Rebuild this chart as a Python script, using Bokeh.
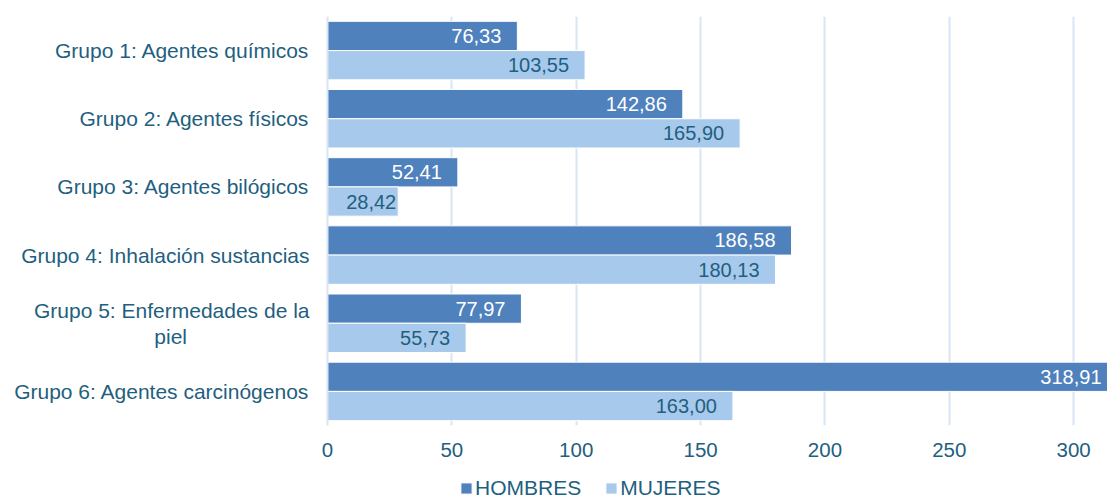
from bokeh.plotting import figure
from bokeh.layouts import column
from bokeh.models import (ColumnDataSource, FactorRange, Range1d, FixedTicker,
                          Legend, LegendItem, CustomJSTickFormatter)
from bokeh.transform import dodge
from bokeh.embed import file_html
from bokeh.resources import INLINE
from bokeh.core.properties import value

# ---------------- data ----------------
NB = "\u00a0"
categories = [
    "Grupo 1: Agentes químicos",
    "Grupo 2: Agentes físicos",
    "Grupo 3: Agentes bilógicos",
    "Grupo 4: Inhalación sustancias",
    "Grupo 5: Enfermedades de la\npiel" + NB * 21,
    "Grupo 6: Agentes carcinógenos",
]
hombres = [76.33, 142.86, 52.41, 186.58, 77.97, 318.91]
mujeres = [103.55, 165.90, 28.42, 180.13, 55.73, 163.00]
series_names = ["HOMBRES", "MUJERES"]
x_ticks = [0, 50, 100, 150, 200, 250, 300]

# ---------------- style ----------------
DARK = "#4F81BD"
LIGHT = "#A7C9EC"
TEXT = "#1F5F7F"
GRID = "#D9E5F3"
FONT = "Liberation Sans"
FS_CAT = "21px"
FS_VAL = "20px"
FS_TICK = "20.5px"

W = 1107
H_MAIN, H_LEG = 476, 24
LEFT, TOP = 327, 16
FRAME_W = W - LEFT
FRAME_H = 409
BOTTOM = H_MAIN - TOP - FRAME_H
X_END = 313.6
PPU = FRAME_W / X_END

BAR_H = 0.429
OFF = BAR_H / 2


def fmt(v):
    return f"{v:.2f}".replace(".", ",")


def label_cols(vals):
    xs, offs, txt = [], [], []
    for v in vals:
        s = fmt(v)
        vis = min(v, X_END)
        bar_px = vis * PPU
        est_w = 11.1 * (len(s) - 1) + 5.6
        if v > X_END:
            o = -6
        elif bar_px - est_w > 40:
            o = -16
        else:
            o = -2
        xs.append(vis)
        offs.append(o)
        txt.append(s)
    return xs, offs, txt


hx, hoff, htxt = label_cols(hombres)
mx, moff, mtxt = label_cols(mujeres)

src = ColumnDataSource(dict(
    cat=categories, hombres=hombres, mujeres=mujeres,
    hx=hx, hoff=hoff, htxt=htxt, mx=mx, moff=moff, mtxt=mtxt,
))

p = figure(
    width=W, height=H_MAIN,
    y_range=FactorRange(factors=list(reversed(categories)), range_padding=0),
    x_range=Range1d(0, X_END),
    output_backend="svg", toolbar_location=None,
    min_border_left=LEFT, min_border_right=0, min_border_top=TOP,
    min_border_bottom=BOTTOM,
)
p.outline_line_color = None
p.background_fill_color = "white"

p.hbar(y=dodge("cat", OFF, range=p.y_range), right="hombres", left=0,
       height=BAR_H, source=src, fill_color=DARK, line_color="white",
       line_width=1)
p.hbar(y=dodge("cat", -OFF, range=p.y_range), right="mujeres", left=0,
       height=BAR_H, source=src, fill_color=LIGHT, line_color="white",
       line_width=1)

p.text(x="hx", y=dodge("cat", OFF, range=p.y_range), text="htxt",
       x_offset="hoff", source=src, text_align="right",
       text_baseline="middle", text_color="white",
       text_font=value(FONT), text_font_size=FS_VAL)
p.text(x="mx", y=dodge("cat", -OFF, range=p.y_range), text="mtxt",
       x_offset="moff", source=src, text_align="right",
       text_baseline="middle", text_color=TEXT,
       text_font=value(FONT), text_font_size=FS_VAL)

# x axis
xa = p.xaxis[0]
xa.ticker = FixedTicker(ticks=x_ticks)
xa.axis_line_color = None
xa.major_tick_line_color = None
xa.minor_tick_line_color = None
xa.major_tick_out = 0
xa.major_tick_in = 0
xa.minor_tick_out = 0
xa.minor_tick_in = 0
xa.major_label_text_font = FONT
xa.major_label_text_font_size = FS_TICK
xa.major_label_text_color = TEXT
xa.major_label_standoff = 17
xa.axis_label_standoff = 0
xa.axis_label_text_font_size = "1px"
xa.formatter = CustomJSTickFormatter(code="return tick.toString().replace('.', ',');")

# y axis
ya = p.yaxis[0]
ya.axis_line_color = GRID
ya.axis_line_width = 2
ya.major_tick_line_color = None
ya.minor_tick_line_color = None
ya.major_tick_out = 0
ya.major_tick_in = 0
ya.major_label_text_font = FONT
ya.major_label_text_font_size = FS_CAT
ya.major_label_text_color = TEXT
ya.major_label_standoff = 18
ya.major_label_text_line_height = 1.12

p.xgrid.grid_line_color = GRID
p.xgrid.grid_line_width = 2
p.ygrid.grid_line_color = None

# ---------------- legend strip ----------------
p2 = figure(
    width=W, height=H_LEG, x_range=Range1d(0, 1), y_range=Range1d(0, 1),
    x_axis_location=None, y_axis_location=None,
    output_backend="svg", toolbar_location=None,
    min_border=0,
)
p2.outline_line_color = None
p2.xgrid.grid_line_color = None
p2.ygrid.grid_line_color = None
# legend swatch renderers (kept outside the strip's visible range)
swatch = ColumnDataSource(dict(y=[-5], right=[0]))
l1 = p2.hbar(y="y", right="right", left=0, height=0.5, source=swatch,
             fill_color=DARK, line_color="white", line_width=1)
l2 = p2.hbar(y="y", right="right", left=0, height=0.5, source=swatch,
             fill_color=LIGHT, line_color="white", line_width=1)

legend = Legend(
    items=[LegendItem(label=series_names[0], renderers=[l1]),
           LegendItem(label=series_names[1], renderers=[l2])],
    orientation="horizontal", location=(132, 0),
    label_text_font=FONT, label_text_font_size=FS_CAT, label_text_color=TEXT,
    glyph_width=14, glyph_height=14, label_standoff=2, spacing=23,
    padding=0, margin=0, border_line_color=None, background_fill_alpha=0,
    label_height=16,
)
p2.add_layout(legend)

open("out.html", "w").write(file_html(column(p, p2), INLINE))
